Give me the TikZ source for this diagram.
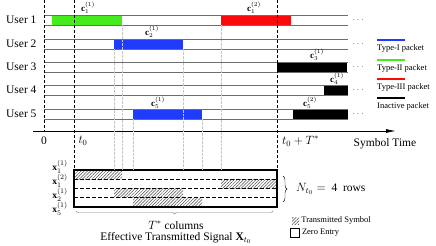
\documentclass[tikz,border=0pt]{standalone}
\usepackage{fontspec}
\setmainfont{Liberation Serif}
\usetikzlibrary{arrows.meta, positioning, fit, patterns.meta, decorations.pathreplacing}
\definecolor{typeone}{RGB}{30, 60, 250}
\definecolor{typetwo}{RGB}{70, 235, 30}
\definecolor{typethree}{RGB}{250, 10, 10}
\definecolor{rowgray}{RGB}{110, 110, 110}

\begin{document}
\begin{tikzpicture}[x=1pt, y=-1pt,
    rowline/.style={draw=rowgray, line width=0.9pt},
    packet/.style={inner sep=0pt, outer sep=0pt, draw=none},
    user/.style={anchor=east, font=\fontsize{11.5}{13}\selectfont},
    clabel/.style={font=\fontsize{9}{10}\selectfont, inner sep=1pt},
    xlabel/.style={font=\fontsize{9.5}{10}\selectfont, inner sep=1pt},
    marker/.style={dash pattern=on 3pt off 2pt, line width=0.7pt},
    guide/.style={gray!45, line width=0.35pt, densely dotted},
    hatch/.style={pattern={Lines[angle=45, distance=2.2pt, line width=0.5pt]},
                  pattern color=black!70},
    legend/.style={anchor=west, font=\fontsize{8.5}{10}\selectfont, inner sep=1pt},
    txt/.style={font=\fontsize{11.5}{13}\selectfont, inner sep=1pt}
]
    \useasboundingbox (0,0) rectangle (436,246);

    % Packets
    \node[packet, fill=typetwo, fit={(52,15) (122,25)}] (p11) {};
    \node[packet, fill=typethree, fit={(221,15) (291,25)}] (p12) {};
    \node[packet, fill=typeone, fit={(114,39) (183,49)}] (p21) {};
    \node[packet, fill=black, fit={(277,62) (347,72)}] (p31) {};
    \node[packet, fill=black, fit={(324,85) (348,95)}] (p41) {};
    \node[packet, fill=typeone, fit={(133,109) (202,119)}] (p51) {};
    \node[packet, fill=black, fit={(293,109) (348,119)}] (p52) {};

    % Users
    \foreach \n/\y in {1/15, 2/39, 3/62, 4/85, 5/109} {
        \draw[rowline] (44,\y) -- (348,\y) (44,\y+10) -- (348,\y+10);
        \node[user] (user\n) at (40,\y+5) {User \n};
        \node[gray] (dots\n) at (358,\y+5) {$\cdots$};
    }

    % Packet labels
    \node[clabel] (c11) at (88,8) {$\mathbf{c}_1^{(1)}$};
    \node[clabel] (c12) at (254,8) {$\mathbf{c}_1^{(2)}$};
    \node[clabel] (c21) at (152,32) {$\mathbf{c}_2^{(1)}$};
    \node[clabel] (c31) at (317,55) {$\mathbf{c}_3^{(1)}$};
    \node[clabel] (c41) at (337,79) {$\mathbf{c}_4^{(1)}$};
    \node[clabel] (c51) at (158,103) {$\mathbf{c}_5^{(1)}$};
    \node[clabel] (c52) at (310,103) {$\mathbf{c}_5^{(2)}$};

    % Time axis
    \coordinate (axl) at (33,131);
    \coordinate (axr) at (396,131);
    \draw[line width=0.8pt, -{Latex[length=10pt, width=4pt]}] (axl) -- (axr);
    \node[txt] (zero) at (44,141) {0};
    \node[txt] (tstart) at (83,141) {$t_0$};
    \node[txt, anchor=west] (tend) at (281,141) {$t_0+T^*$};
    \node[txt] (symtime) at (385,144) {Symbol Time};

    % Effective signal matrix
    \node[minimum width=203pt, minimum height=37pt, inner sep=0pt, outer sep=0pt,
          anchor=north west] (mat) at (74,170) {};
    \fill[hatch] (74,170) rectangle (122,179.25);
    \fill[hatch] (221,179.25) rectangle (277,188.5);
    \fill[hatch] (114,188.5) rectangle (183,197.75);
    \fill[hatch] (133,197.75) rectangle (202,207);
    \foreach \y in {179.25, 188.5, 197.75}
        \draw[dash pattern=on 4pt off 2pt, line width=0.6pt] (74,\y) -- (277,\y);
    \draw[line width=1.1pt] (mat.north west) rectangle (mat.south east);

    \node[xlabel] (x11) at (60,167) {$\mathbf{x}_1^{(1)}$};
    \node[xlabel] (x12) at (60,181) {$\mathbf{x}_1^{(2)}$};
    \node[xlabel] (x21) at (60,195) {$\mathbf{x}_2^{(1)}$};
    \node[xlabel] (x51) at (60,209) {$\mathbf{x}_5^{(1)}$};

    % Time markers
    \coordinate (m0) at (44,0);
    \coordinate (mt0) at (74,0);
    \coordinate (mt1) at (277,0);
    \draw[marker] (m0) -- (m0 |- axl);
    \draw[marker] (mt0) -- (mt0 |- mat.north);
    \draw[marker] (mt1) -- (mt1 |- mat.north);

    % Guides
    \draw[guide] (p11.south east) -- (p11.south east |- mat.north);
    \draw[guide] (p12.south west) -- (p12.south west |- mat.north);
    \draw[guide] (p21.south west) -- (p21.south west |- mat.north);
    \draw[guide] (p21.south east) -- (p21.south east |- mat.north);
    \draw[guide] (p51.south west) -- (p51.south west |- mat.north);
    \draw[guide] (p51.south east) -- (p51.south east |- mat.north);

    % Braces
    \coordinate (bl) at (76,211);
    \coordinate (br) at (273,211);
    \draw[gray, decorate, decoration={brace, mirror, amplitude=3pt}] (bl) -- (br);
    \node[txt] (cols) at (176,225) {$T^*$ columns};
    \node[txt] (sig) at (176,238) {Effective Transmitted Signal $\mathbf{X}_{t_0}$};
    \coordinate (rt) at (283,176);
    \coordinate (rb) at (283,202);
    \draw[decorate, decoration={brace, amplitude=4pt}] (rt) -- (rb);
    \node[txt, anchor=west] (rows) at (295,189) {$N_{t_0}=$ \ 4 \ rows};

    % Legend
    \foreach \c/\t/\y [count=\i] in {typeone/Type-I packet/40, typetwo/Type-II packet/60,
                                     typethree/Type-III packet/79, black/Inactive packet/98} {
        \draw[\c, line width=2.2pt] (377,\y) -- (405,\y);
        \node[legend] (leg\i) at (376,\y+8) {\t};
    }
    \node[hatch, minimum size=7pt, inner sep=0pt] (symbox) at (295.5,220.5) {};
    \node[legend, right=1pt of symbox] (symtxt) {Transmitted Symbol};
    \node[draw, line width=0.6pt, minimum size=9pt, inner sep=0pt] (zerobox) at (295,232.5) {};
    \node[legend, right=1pt of zerobox] (zerotxt) {Zero Entry};
\end{tikzpicture}
\end{document}
